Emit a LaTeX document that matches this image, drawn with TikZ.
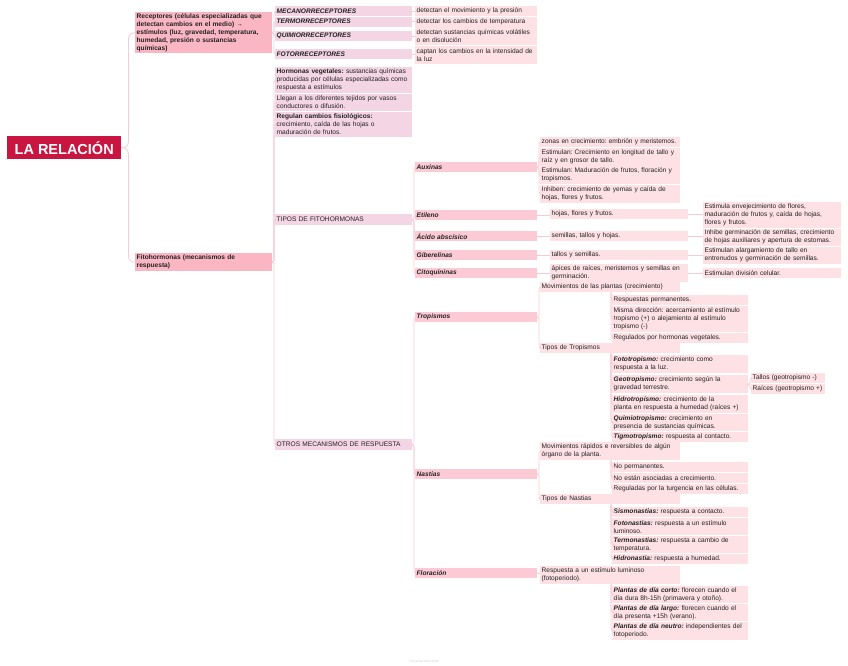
\documentclass[tikz,border=0pt]{standalone}
\usepackage{fontspec}
\setmainfont{Liberation Sans}
\definecolor{rootc}{RGB}{200,22,64}
\definecolor{lvlone}{HTML}{FBB6C3}
\definecolor{lvltwo}{HTML}{F4D5E4}
\definecolor{lvlthree}{HTML}{FCCAD5}
\definecolor{leafc}{HTML}{FDE1E5}
\definecolor{connc}{HTML}{F8CBD4}
\definecolor{txt}{HTML}{222222}
\newcommand{\bi}[1]{\textbf{\textit{#1}}}
\newcommand{\boxfont}{\fontsize{6.6}{8}\selectfont\frenchspacing\hyphenpenalty 10000\relax\exhyphenpenalty 10000\relax}
\tikzset{
  box/.style={anchor=north west, inner xsep=1.5pt, inner ysep=1pt, align=left, text=txt,
    font=\boxfont, draw=none},
  rootbox/.style={anchor=north west, fill=rootc, text=white, font=\fontsize{14.5}{16}\selectfont\bfseries,
    minimum width=114pt, minimum height=23pt, inner sep=0pt},
  lone/.style={box, fill=lvlone},
  ltwo/.style={box, fill=lvltwo},
  lthree/.style={box, fill=lvlthree},
  leaf/.style={box, fill=leafc},
  conn/.style={draw=connc, line width=0.8pt, rounded corners=3pt},
}
\newcommand{\bxn}[7]{\node[#1, text width=#5pt-3pt, minimum height=#6pt] (#2) at (#3,#4) {#7};}
\begin{document}
\begin{tikzpicture}[x=1pt,y=-1pt]
\useasboundingbox (0,0) rectangle (848,665);
% root
\node[rootbox] (root) at (7,136) {LA RELACIÓN};
% level 1
\bxn{lone}{rec}{135}{12}{137}{41}{\textbf{Receptores (células especializadas que}\\\textbf{detectan cambios en el medio) →}\\\textbf{estímulos (luz, gravedad, temperatura,}\\\textbf{humedad, presión o sustancias}\\\textbf{químicas)}}
\bxn{lone}{fito}{135}{253}{137}{18}{\textbf{Fitohormonas (mecanismos de}\\\textbf{respuesta)}}
% level 2 receptores
\bxn{ltwo}{mec}{275}{6}{137}{10}{\bi{MECANORRECEPTORES}}
\bxn{ltwo}{ter}{275}{16.5}{137}{10}{\bi{TERMORRECEPTORES}}
\bxn{ltwo}{qui}{275}{31}{137}{10}{\bi{QUIMIORRECEPTORES}}
\bxn{ltwo}{fot}{275}{49}{137}{10}{\bi{FOTORRECEPTORES}}
\bxn{leaf}{d1}{415}{6}{122}{10}{detectan el movimiento y la presión}
\bxn{leaf}{d2}{415}{16.5}{122}{10}{detectar los cambios de temperatura}
\bxn{leaf}{d3}{415}{27}{122}{18}{detectan sustancias químicas volátiles\\o en disolución}
\bxn{leaf}{d4}{415}{45.5}{122}{18}{captan los cambios en la intensidad de\\la luz}
% level 2 fitohormonas
\bxn{ltwo}{hv}{275}{67}{137}{26}{\textbf{Hormonas vegetales:} sustancias químicas\\producidas por células especializadas como\\respuesta a estímulos}
\bxn{ltwo}{lle}{275}{93.5}{137}{17.5}{Llegan a los diferentes tejidos por vasos\\conductores o difusión.}
\bxn{ltwo}{reg}{275}{111.5}{137}{25}{\textbf{Regulan cambios fisiológicos:}\\crecimiento, caída de las hojas o\\maduración de frutos.}
\bxn{ltwo}{tip}{275}{214}{137}{11}{TIPOS DE FITOHORMONAS}
\bxn{ltwo}{otr}{275}{439}{137}{11}{OTROS MECANISMOS DE RESPUESTA}
% level 3 hormones
\bxn{lthree}{aux}{415}{162}{122}{10}{\bi{Auxinas}}
\bxn{lthree}{eti}{415}{210}{122}{10}{\bi{Etileno}}
\bxn{lthree}{aci}{415}{231}{122}{10}{\bi{Ácido abscísico}}
\bxn{lthree}{gib}{415}{250}{122}{10}{\bi{Giberelinas}}
\bxn{lthree}{cit}{415}{268}{122}{10}{\bi{Citoquininas}}
\bxn{lthree}{tro}{415}{312}{122}{10}{\bi{Tropismos}}
\bxn{lthree}{nas}{415}{469}{122}{10}{\bi{Nastias}}
\bxn{lthree}{flo}{415}{568}{122}{10}{\bi{Floración}}
% auxinas children
\bxn{leaf}{a1}{540}{137}{140}{10}{zonas en crecimiento: embrión y meristemos.}
\bxn{leaf}{a2}{540}{147.5}{140}{18}{Estimulan: Crecimiento en longitud de tallo y\\raíz y en grosor de tallo.}
\bxn{leaf}{a3}{540}{166}{140}{18}{Estimulan: Maduración de frutos, floración y\\tropismos.}
\bxn{leaf}{a4}{540}{184.5}{140}{18}{Inhiben: crecimiento de yemas y caída de\\hojas, flores y frutos.}
% other hormones
\bxn{leaf}{e1}{550}{209}{138}{10}{hojas, flores y frutos.}
\bxn{leaf}{ab1}{550}{231}{138}{10}{semillas, tallos y hojas.}
\bxn{leaf}{g1}{550}{250}{138}{10}{tallos y semillas.}
\bxn{leaf}{c1}{550}{264}{138}{18}{ápices de raíces, meristemos y semillas en\\germinación.}
\bxn{leaf}{e2}{703}{202}{138}{26}{Estimula envejecimiento de flores,\\maduración de frutos y, caída de hojas,\\flores y frutos.}
\bxn{leaf}{ab2}{703}{228.5}{138}{17}{Inhibe germinación de semillas, crecimiento\\de hojas auxiliares y apertura de estomas.}
\bxn{leaf}{g2}{703}{246.5}{138}{17}{Estimulan alargamiento de tallo en\\entrenudos y germinación de semillas.}
\bxn{leaf}{c2}{703}{268}{138}{10}{Estimulan división celular.}
% tropismos
\bxn{leaf}{t1}{540}{282}{140}{10}{Movimientos de las plantas (crecimiento)}
\bxn{leaf}{t2}{540}{343}{140}{10}{Tipos de Tropismos}
\bxn{leaf}{t11}{612}{295}{136}{10}{Respuestas permanentes.}
\bxn{leaf}{t12}{612}{306}{136}{26}{Misma dirección: acercamiento al estímulo\\tropismo (+) o alejamiento al estímulo\\tropismo (-)}
\bxn{leaf}{t13}{612}{332.5}{136}{10}{Regulados por hormonas vegetales.}
\bxn{leaf}{t21}{612}{355}{136}{18}{\bi{Fototropismo:} crecimiento como\\respuesta a la luz.}
\bxn{leaf}{t22}{612}{375}{136}{18}{\bi{Geotropismo:} crecimiento según la\\gravedad terrestre.}
\bxn{leaf}{t23}{612}{395}{136}{18}{\bi{Hidrotropismo:} crecimiento de la\\planta en respuesta a humedad (raíces +)}
\bxn{leaf}{t24}{612}{414}{136}{17}{\bi{Quimiotropismo:} crecimiento en\\presencia de sustancias químicas.}
\bxn{leaf}{t25}{612}{431.5}{136}{10}{\bi{Tigmotropismo:} respuesta al contacto.}
\bxn{leaf}{g21}{751}{373}{74}{10}{Tallos (geotropismo -)}
\bxn{leaf}{g22}{751}{384}{74}{10}{Raíces (geotropismo +)}
% nastias
\bxn{leaf}{n1}{540}{442}{140}{18}{Movimientos rápidos e reversibles de algún\\órgano de la planta.}
\bxn{leaf}{n2}{540}{494}{140}{10}{Tipos de Nastias}
\bxn{leaf}{n11}{612}{462}{136}{10}{No permanentes.}
\bxn{leaf}{n12}{612}{473}{136}{10}{No están asociadas a crecimiento.}
\bxn{leaf}{n13}{612}{484}{136}{10}{Reguladas por la turgencia en las células.}
\bxn{leaf}{n21}{612}{507}{136}{10}{\bi{Sismonastias:} respuesta a contacto.}
\bxn{leaf}{n22}{612}{518}{136}{17}{\bi{Fotonastias:} respuesta a un estímulo\\luminoso.}
\bxn{leaf}{n23}{612}{536}{136}{17}{\bi{Termonastias:} respuesta a cambio de\\temperatura.}
\bxn{leaf}{n24}{612}{554}{136}{10}{\bi{Hidronastia:} respuesta a humedad.}
% floracion
\bxn{leaf}{f1}{540}{566}{140}{18}{Respuesta a un estímulo luminoso\\(fotoperiodo).}
\bxn{leaf}{f11}{612}{586}{136}{17}{\bi{Plantas de día corto:} florecen cuando el\\día dura 8h-15h (primavera y otoño).}
\bxn{leaf}{f12}{612}{604}{136}{17}{\bi{Plantas de día largo:} florecen cuando el\\día presenta +15h (verano).}
\bxn{leaf}{f13}{612}{622}{136}{18}{\bi{Plantas de día neutro:} independientes del\\fotoperiodo.}
% watermark
\node[font=\fontsize{3}{3}\selectfont, text=black!20, inner sep=0pt] (wm) at (424,661) {Presented with xmind};
% connectors
\foreach \c in {rec,fito} \draw[conn, rounded corners=6pt] (root.east) -- ++(7,0) |- (\c.west);
\foreach \c in {mec,ter,qui,fot} \draw[conn, rounded corners=1.5pt] (rec.east) -- ++(1.5,0) |- (\c.west);
\foreach \c in {hv,lle,reg,tip,otr} \draw[conn, rounded corners=1.5pt] (fito.east) -- ++(1.5,0) |- (\c.west);
\draw[conn] (mec.east) -- (mec.east -| d1.west);
\draw[conn] (ter.east) -- (ter.east -| d2.west);
\draw[conn] (qui.east) -- (qui.east -| d3.west);
\draw[conn] (fot.east) -- (fot.east -| d4.west);
\foreach \c in {aux,eti,aci,gib,cit} \draw[conn, rounded corners=1.5pt] (tip.east) -- ++(1.5,0) |- (\c.west);
\foreach \c in {tro,nas,flo} \draw[conn, rounded corners=1.5pt] (otr.east) -- ++(1.5,0) |- (\c.west);
\foreach \c in {a1,a2,a3,a4} \draw[conn, rounded corners=1.5pt] (aux.east) -- ++(1.5,0) |- (\c.west);
\draw[conn] (eti.east) -- (eti.east -| e1.west);
\draw[conn] (aci.east) -- (aci.east -| ab1.west);
\draw[conn] (gib.east) -- (gib.east -| g1.west);
\draw[conn] (cit.east) -- (cit.east -| c1.west);
\draw[conn] (e1.east) -- (e1.east -| e2.west);
\draw[conn] (ab1.east) -- (ab1.east -| ab2.west);
\draw[conn] (g1.east) -- (g1.east -| g2.west);
\draw[conn] (c1.east) -- (c1.east -| c2.west);
\foreach \c in {t1,t2} \draw[conn, rounded corners=1.5pt] (tro.east) -- ++(1.5,0) |- (\c.west);
\foreach \c in {n1,n2} \draw[conn, rounded corners=1.5pt] (nas.east) -- ++(1.5,0) |- (\c.west);
\draw[conn] (flo.east) -- (flo.east -| f1.west);
\foreach \c in {t11,t12,t13} \draw[conn] (t1.south west) ++(71,0) |- (\c.west);
\foreach \c in {t21,t22,t23,t24,t25} \draw[conn] (t2.south west) ++(71,0) |- (\c.west);
\foreach \c in {n11,n12,n13} \draw[conn] (n1.south west) ++(71,0) |- (\c.west);
\foreach \c in {n21,n22,n23,n24} \draw[conn] (n2.south west) ++(71,0) |- (\c.west);
\foreach \c in {f11,f12,f13} \draw[conn] (f1.south west) ++(71,0) |- (\c.west);
\foreach \c in {g21,g22} \draw[conn, rounded corners=2pt] (t22.east) -- ++(1.5,0) |- (\c.west);
\end{tikzpicture}
\end{document}
